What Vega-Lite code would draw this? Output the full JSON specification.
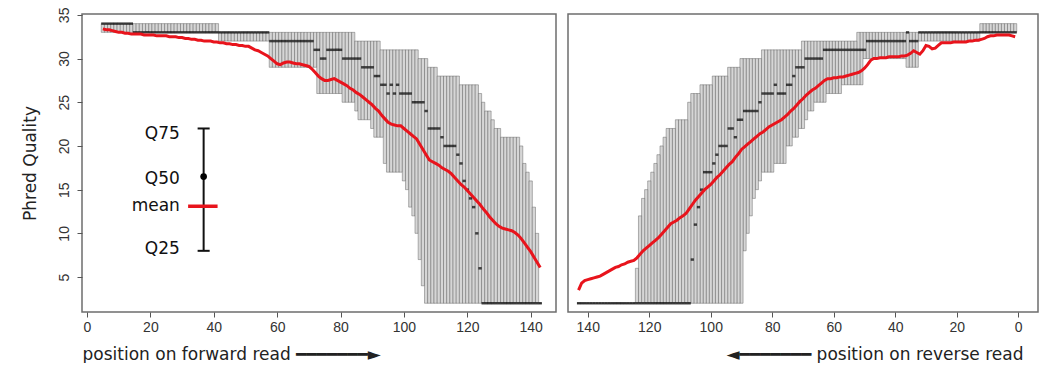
{
  "$schema": "https://vega.github.io/schema/vega-lite/v6.json",
  "autosize": {"type": "pad"},
  "padding": {"left": 20, "top": 6, "right": 0, "bottom": 0},
  "background": "white",
  "spacing": 12,
  "bounds": "flush",
  "config": {
    "view": {"stroke": "#6e6e6e", "strokeWidth": 1.5},
    "font": "DejaVu Sans",
    "axis": {
      "labelFont": "Liberation Sans", "labelFontSize": 14, "labelColor": "#333333",
      "tickColor": "#555555", "tickSize": 5, "domain": false, "grid": false,
      "titleFont": "DejaVu Sans", "titleFontWeight": "normal", "titleFontSize": 17, "titleColor": "#222222"
    }
  },
  "datasets": {
    "fwd": [
      {"pos":5,"q25":33,"q75":34,"median":34,"mean":33.4},
      {"pos":6,"q25":33,"q75":34,"median":34,"mean":33.3},
      {"pos":7,"q25":33,"q75":34,"median":34,"mean":33.3},
      {"pos":8,"q25":33,"q75":34,"median":34,"mean":33.2},
      {"pos":9,"q25":33,"q75":34,"median":34,"mean":33.1},
      {"pos":10,"q25":33,"q75":34,"median":34,"mean":33.0},
      {"pos":11,"q25":33,"q75":34,"median":34,"mean":33.0},
      {"pos":12,"q25":33,"q75":34,"median":34,"mean":32.9},
      {"pos":13,"q25":33,"q75":34,"median":34,"mean":32.9},
      {"pos":14,"q25":33,"q75":34,"median":34,"mean":32.8},
      {"pos":15,"q25":33,"q75":34,"median":33,"mean":32.8},
      {"pos":16,"q25":33,"q75":34,"median":33,"mean":32.8},
      {"pos":17,"q25":33,"q75":34,"median":33,"mean":32.8},
      {"pos":18,"q25":33,"q75":34,"median":33,"mean":32.7},
      {"pos":19,"q25":33,"q75":34,"median":33,"mean":32.7},
      {"pos":20,"q25":33,"q75":34,"median":33,"mean":32.7},
      {"pos":21,"q25":33,"q75":34,"median":33,"mean":32.7},
      {"pos":22,"q25":33,"q75":34,"median":33,"mean":32.6},
      {"pos":23,"q25":33,"q75":34,"median":33,"mean":32.6},
      {"pos":24,"q25":33,"q75":34,"median":33,"mean":32.6},
      {"pos":25,"q25":33,"q75":34,"median":33,"mean":32.6},
      {"pos":26,"q25":33,"q75":34,"median":33,"mean":32.5},
      {"pos":27,"q25":33,"q75":34,"median":33,"mean":32.5},
      {"pos":28,"q25":33,"q75":34,"median":33,"mean":32.5},
      {"pos":29,"q25":33,"q75":34,"median":33,"mean":32.4},
      {"pos":30,"q25":33,"q75":34,"median":33,"mean":32.4},
      {"pos":31,"q25":33,"q75":34,"median":33,"mean":32.3},
      {"pos":32,"q25":33,"q75":34,"median":33,"mean":32.3},
      {"pos":33,"q25":33,"q75":34,"median":33,"mean":32.2},
      {"pos":34,"q25":33,"q75":34,"median":33,"mean":32.2},
      {"pos":35,"q25":33,"q75":34,"median":33,"mean":32.1},
      {"pos":36,"q25":33,"q75":34,"median":33,"mean":32.1},
      {"pos":37,"q25":33,"q75":34,"median":33,"mean":32.0},
      {"pos":38,"q25":33,"q75":34,"median":33,"mean":32.0},
      {"pos":39,"q25":33,"q75":34,"median":33,"mean":32.0},
      {"pos":40,"q25":33,"q75":34,"median":33,"mean":31.9},
      {"pos":41,"q25":33,"q75":34,"median":33,"mean":31.9},
      {"pos":42,"q25":32,"q75":33,"median":33,"mean":31.8},
      {"pos":43,"q25":32,"q75":33,"median":33,"mean":31.8},
      {"pos":44,"q25":32,"q75":33,"median":33,"mean":31.7},
      {"pos":45,"q25":32,"q75":33,"median":33,"mean":31.7},
      {"pos":46,"q25":32,"q75":33,"median":33,"mean":31.6},
      {"pos":47,"q25":32,"q75":33,"median":33,"mean":31.6},
      {"pos":48,"q25":32,"q75":33,"median":33,"mean":31.5},
      {"pos":49,"q25":32,"q75":33,"median":33,"mean":31.5},
      {"pos":50,"q25":32,"q75":33,"median":33,"mean":31.4},
      {"pos":51,"q25":32,"q75":33,"median":33,"mean":31.4},
      {"pos":52,"q25":32,"q75":33,"median":33,"mean":31.2},
      {"pos":53,"q25":32,"q75":33,"median":33,"mean":31.0},
      {"pos":54,"q25":32,"q75":33,"median":33,"mean":30.9},
      {"pos":55,"q25":32,"q75":33,"median":33,"mean":30.7},
      {"pos":56,"q25":32,"q75":33,"median":33,"mean":30.5},
      {"pos":57,"q25":32,"q75":33,"median":33,"mean":30.3},
      {"pos":58,"q25":29,"q75":33,"median":32,"mean":30.0},
      {"pos":59,"q25":29,"q75":33,"median":32,"mean":29.7},
      {"pos":60,"q25":29,"q75":33,"median":32,"mean":29.4},
      {"pos":61,"q25":29,"q75":33,"median":32,"mean":29.3},
      {"pos":62,"q25":29,"q75":33,"median":32,"mean":29.5},
      {"pos":63,"q25":29,"q75":33,"median":32,"mean":29.6},
      {"pos":64,"q25":29,"q75":33,"median":32,"mean":29.6},
      {"pos":65,"q25":29,"q75":33,"median":32,"mean":29.5},
      {"pos":66,"q25":29,"q75":33,"median":32,"mean":29.4},
      {"pos":67,"q25":29,"q75":33,"median":32,"mean":29.4},
      {"pos":68,"q25":29,"q75":33,"median":32,"mean":29.3},
      {"pos":69,"q25":29,"q75":33,"median":32,"mean":29.2},
      {"pos":70,"q25":29,"q75":33,"median":32,"mean":29.1},
      {"pos":71,"q25":29,"q75":33,"median":32,"mean":28.8},
      {"pos":72,"q25":29,"q75":33,"median":31,"mean":28.4},
      {"pos":73,"q25":26,"q75":33,"median":31,"mean":28.0},
      {"pos":74,"q25":26,"q75":33,"median":30,"mean":27.7},
      {"pos":75,"q25":26,"q75":33,"median":30,"mean":27.5},
      {"pos":76,"q25":26,"q75":33,"median":31,"mean":27.5},
      {"pos":77,"q25":26,"q75":33,"median":31,"mean":27.6},
      {"pos":78,"q25":26,"q75":33,"median":31,"mean":27.7},
      {"pos":79,"q25":26,"q75":33,"median":31,"mean":27.5},
      {"pos":80,"q25":26,"q75":33,"median":31,"mean":27.3},
      {"pos":81,"q25":25,"q75":33,"median":30,"mean":27.1},
      {"pos":82,"q25":25,"q75":33,"median":30,"mean":26.9},
      {"pos":83,"q25":25,"q75":33,"median":30,"mean":26.6},
      {"pos":84,"q25":25,"q75":33,"median":30,"mean":26.4},
      {"pos":85,"q25":24,"q75":32,"median":30,"mean":26.1},
      {"pos":86,"q25":23,"q75":32,"median":30,"mean":25.9},
      {"pos":87,"q25":23,"q75":32,"median":29,"mean":25.6},
      {"pos":88,"q25":23,"q75":32,"median":29,"mean":25.3},
      {"pos":89,"q25":23,"q75":32,"median":29,"mean":25.0},
      {"pos":90,"q25":22,"q75":32,"median":29,"mean":24.7},
      {"pos":91,"q25":21,"q75":32,"median":28,"mean":24.3},
      {"pos":92,"q25":21,"q75":32,"median":28,"mean":24.0},
      {"pos":93,"q25":21,"q75":31,"median":27,"mean":23.5},
      {"pos":94,"q25":18,"q75":31,"median":27,"mean":23.1},
      {"pos":95,"q25":17,"q75":31,"median":26,"mean":22.7},
      {"pos":96,"q25":17,"q75":31,"median":27,"mean":22.5},
      {"pos":97,"q25":17,"q75":31,"median":26,"mean":22.4},
      {"pos":98,"q25":17,"q75":31,"median":27,"mean":22.3},
      {"pos":99,"q25":17,"q75":31,"median":26,"mean":22.3},
      {"pos":100,"q25":16,"q75":31,"median":26,"mean":22.0},
      {"pos":101,"q25":15,"q75":31,"median":26,"mean":21.7},
      {"pos":102,"q25":13,"q75":31,"median":26,"mean":21.4},
      {"pos":103,"q25":12,"q75":31,"median":25,"mean":21.1},
      {"pos":104,"q25":10,"q75":31,"median":25,"mean":20.8},
      {"pos":105,"q25":7,"q75":30,"median":25,"mean":20.2},
      {"pos":106,"q25":4,"q75":30,"median":25,"mean":19.6},
      {"pos":107,"q25":2,"q75":30,"median":24,"mean":19.0},
      {"pos":108,"q25":2,"q75":29,"median":22,"mean":18.4},
      {"pos":109,"q25":2,"q75":29,"median":22,"mean":18.2},
      {"pos":110,"q25":2,"q75":29,"median":22,"mean":18.0},
      {"pos":111,"q25":2,"q75":28,"median":22,"mean":17.8},
      {"pos":112,"q25":2,"q75":28,"median":21,"mean":17.5},
      {"pos":113,"q25":2,"q75":28,"median":20,"mean":17.3},
      {"pos":114,"q25":2,"q75":28,"median":20,"mean":17.1},
      {"pos":115,"q25":2,"q75":28,"median":20,"mean":16.8},
      {"pos":116,"q25":2,"q75":28,"median":20,"mean":16.4},
      {"pos":117,"q25":2,"q75":28,"median":19,"mean":16.0},
      {"pos":118,"q25":2,"q75":27,"median":18,"mean":15.6},
      {"pos":119,"q25":2,"q75":27,"median":16,"mean":15.3},
      {"pos":120,"q25":2,"q75":27,"median":15,"mean":14.9},
      {"pos":121,"q25":2,"q75":27,"median":14,"mean":14.5},
      {"pos":122,"q25":2,"q75":27,"median":13,"mean":14.1},
      {"pos":123,"q25":2,"q75":27,"median":10,"mean":13.7},
      {"pos":124,"q25":2,"q75":26,"median":6,"mean":13.3},
      {"pos":125,"q25":2,"q75":25,"median":2,"mean":12.8},
      {"pos":126,"q25":2,"q75":24,"median":2,"mean":12.4},
      {"pos":127,"q25":2,"q75":24,"median":2,"mean":11.9},
      {"pos":128,"q25":2,"q75":23,"median":2,"mean":11.5},
      {"pos":129,"q25":2,"q75":22,"median":2,"mean":11.1},
      {"pos":130,"q25":2,"q75":22,"median":2,"mean":10.8},
      {"pos":131,"q25":2,"q75":21,"median":2,"mean":10.6},
      {"pos":132,"q25":2,"q75":21,"median":2,"mean":10.5},
      {"pos":133,"q25":2,"q75":21,"median":2,"mean":10.4},
      {"pos":134,"q25":2,"q75":21,"median":2,"mean":10.3},
      {"pos":135,"q25":2,"q75":21,"median":2,"mean":10.1},
      {"pos":136,"q25":2,"q75":21,"median":2,"mean":9.8},
      {"pos":137,"q25":2,"q75":20,"median":2,"mean":9.4},
      {"pos":138,"q25":2,"q75":18,"median":2,"mean":8.9},
      {"pos":139,"q25":2,"q75":17,"median":2,"mean":8.4},
      {"pos":140,"q25":2,"q75":16,"median":2,"mean":7.9},
      {"pos":141,"q25":2,"q75":13,"median":2,"mean":7.3},
      {"pos":142,"q25":2,"q75":10,"median":2,"mean":6.7},
      {"pos":143,"q25":2,"q75":2,"median":2,"mean":6.1}
    ],
    "rev": [
      {"pos":1,"q25":33,"q75":34,"median":33,"mean":32.5},
      {"pos":2,"q25":33,"q75":34,"median":33,"mean":32.6},
      {"pos":3,"q25":33,"q75":34,"median":33,"mean":32.7},
      {"pos":4,"q25":33,"q75":34,"median":33,"mean":32.7},
      {"pos":5,"q25":33,"q75":34,"median":33,"mean":32.7},
      {"pos":6,"q25":33,"q75":34,"median":33,"mean":32.7},
      {"pos":7,"q25":33,"q75":34,"median":33,"mean":32.7},
      {"pos":8,"q25":33,"q75":34,"median":33,"mean":32.6},
      {"pos":9,"q25":33,"q75":34,"median":33,"mean":32.6},
      {"pos":10,"q25":33,"q75":34,"median":33,"mean":32.5},
      {"pos":11,"q25":33,"q75":34,"median":33,"mean":32.3},
      {"pos":12,"q25":33,"q75":34,"median":33,"mean":32.2},
      {"pos":13,"q25":32,"q75":33,"median":33,"mean":32.1},
      {"pos":14,"q25":32,"q75":33,"median":33,"mean":32.1},
      {"pos":15,"q25":32,"q75":33,"median":33,"mean":32.0},
      {"pos":16,"q25":32,"q75":33,"median":33,"mean":32.0},
      {"pos":17,"q25":32,"q75":33,"median":33,"mean":31.9},
      {"pos":18,"q25":32,"q75":33,"median":33,"mean":31.9},
      {"pos":19,"q25":32,"q75":33,"median":33,"mean":31.9},
      {"pos":20,"q25":32,"q75":33,"median":33,"mean":31.9},
      {"pos":21,"q25":32,"q75":33,"median":33,"mean":31.9},
      {"pos":22,"q25":32,"q75":33,"median":33,"mean":31.8},
      {"pos":23,"q25":32,"q75":33,"median":33,"mean":31.8},
      {"pos":24,"q25":32,"q75":33,"median":33,"mean":31.8},
      {"pos":25,"q25":32,"q75":33,"median":33,"mean":31.8},
      {"pos":26,"q25":32,"q75":33,"median":33,"mean":31.5},
      {"pos":27,"q25":32,"q75":33,"median":33,"mean":31.2},
      {"pos":28,"q25":32,"q75":33,"median":33,"mean":31.1},
      {"pos":29,"q25":32,"q75":33,"median":33,"mean":31.4},
      {"pos":30,"q25":32,"q75":33,"median":33,"mean":31.5},
      {"pos":31,"q25":32,"q75":33,"median":33,"mean":30.9},
      {"pos":32,"q25":32,"q75":33,"median":33,"mean":30.5},
      {"pos":33,"q25":29,"q75":33,"median":32,"mean":30.7},
      {"pos":34,"q25":29,"q75":33,"median":32,"mean":30.9},
      {"pos":35,"q25":29,"q75":33,"median":32,"mean":30.6},
      {"pos":36,"q25":29,"q75":33,"median":33,"mean":30.4},
      {"pos":37,"q25":30,"q75":33,"median":32,"mean":30.3},
      {"pos":38,"q25":30,"q75":33,"median":32,"mean":30.3},
      {"pos":39,"q25":30,"q75":33,"median":32,"mean":30.2},
      {"pos":40,"q25":30,"q75":33,"median":32,"mean":30.2},
      {"pos":41,"q25":30,"q75":33,"median":32,"mean":30.2},
      {"pos":42,"q25":30,"q75":33,"median":32,"mean":30.2},
      {"pos":43,"q25":30,"q75":33,"median":32,"mean":30.1},
      {"pos":44,"q25":30,"q75":33,"median":32,"mean":30.1},
      {"pos":45,"q25":30,"q75":33,"median":32,"mean":30.1},
      {"pos":46,"q25":30,"q75":33,"median":32,"mean":30.0},
      {"pos":47,"q25":30,"q75":33,"median":32,"mean":30.0},
      {"pos":48,"q25":30,"q75":33,"median":32,"mean":29.8},
      {"pos":49,"q25":30,"q75":33,"median":32,"mean":29.3},
      {"pos":50,"q25":30,"q75":33,"median":31,"mean":28.9},
      {"pos":51,"q25":27,"q75":33,"median":31,"mean":28.6},
      {"pos":52,"q25":27,"q75":33,"median":31,"mean":28.4},
      {"pos":53,"q25":27,"q75":32,"median":31,"mean":28.3},
      {"pos":54,"q25":27,"q75":32,"median":31,"mean":28.2},
      {"pos":55,"q25":27,"q75":32,"median":31,"mean":28.1},
      {"pos":56,"q25":27,"q75":32,"median":31,"mean":28.0},
      {"pos":57,"q25":27,"q75":32,"median":31,"mean":27.9},
      {"pos":58,"q25":26,"q75":32,"median":31,"mean":27.9},
      {"pos":59,"q25":26,"q75":32,"median":31,"mean":27.8},
      {"pos":60,"q25":26,"q75":32,"median":31,"mean":27.8},
      {"pos":61,"q25":26,"q75":32,"median":31,"mean":27.7},
      {"pos":62,"q25":26,"q75":32,"median":31,"mean":27.7},
      {"pos":63,"q25":25,"q75":32,"median":31,"mean":27.5},
      {"pos":64,"q25":25,"q75":32,"median":30,"mean":27.2},
      {"pos":65,"q25":25,"q75":32,"median":30,"mean":26.9},
      {"pos":66,"q25":25,"q75":32,"median":30,"mean":26.6},
      {"pos":67,"q25":24,"q75":32,"median":30,"mean":26.4},
      {"pos":68,"q25":24,"q75":32,"median":30,"mean":26.1},
      {"pos":69,"q25":23,"q75":32,"median":30,"mean":25.8},
      {"pos":70,"q25":22,"q75":32,"median":29,"mean":25.4},
      {"pos":71,"q25":22,"q75":31,"median":29,"mean":25.1},
      {"pos":72,"q25":21,"q75":31,"median":29,"mean":24.7},
      {"pos":73,"q25":21,"q75":31,"median":28,"mean":24.3},
      {"pos":74,"q25":20,"q75":31,"median":27,"mean":24.0},
      {"pos":75,"q25":20,"q75":31,"median":27,"mean":23.6},
      {"pos":76,"q25":18,"q75":31,"median":26,"mean":23.3},
      {"pos":77,"q25":18,"q75":31,"median":26,"mean":23.0},
      {"pos":78,"q25":18,"q75":31,"median":26,"mean":22.8},
      {"pos":79,"q25":18,"q75":31,"median":27,"mean":22.6},
      {"pos":80,"q25":17,"q75":31,"median":26,"mean":22.4},
      {"pos":81,"q25":17,"q75":31,"median":26,"mean":22.2},
      {"pos":82,"q25":17,"q75":31,"median":26,"mean":21.9},
      {"pos":83,"q25":17,"q75":31,"median":26,"mean":21.6},
      {"pos":84,"q25":16,"q75":30,"median":25,"mean":21.4},
      {"pos":85,"q25":15,"q75":30,"median":24,"mean":21.1},
      {"pos":86,"q25":14,"q75":30,"median":24,"mean":20.8},
      {"pos":87,"q25":12,"q75":30,"median":24,"mean":20.5},
      {"pos":88,"q25":10,"q75":30,"median":24,"mean":20.2},
      {"pos":89,"q25":8,"q75":30,"median":24,"mean":19.9},
      {"pos":90,"q25":2,"q75":30,"median":23,"mean":19.6},
      {"pos":91,"q25":2,"q75":29,"median":23,"mean":19.1},
      {"pos":92,"q25":2,"q75":29,"median":21,"mean":18.7},
      {"pos":93,"q25":2,"q75":29,"median":22,"mean":18.2},
      {"pos":94,"q25":2,"q75":29,"median":22,"mean":17.9},
      {"pos":95,"q25":2,"q75":28,"median":20,"mean":17.5},
      {"pos":96,"q25":2,"q75":28,"median":20,"mean":17.1},
      {"pos":97,"q25":2,"q75":28,"median":20,"mean":16.7},
      {"pos":98,"q25":2,"q75":28,"median":19,"mean":16.4},
      {"pos":99,"q25":2,"q75":28,"median":18,"mean":16.0},
      {"pos":100,"q25":2,"q75":27,"median":17,"mean":15.6},
      {"pos":101,"q25":2,"q75":27,"median":17,"mean":15.3},
      {"pos":102,"q25":2,"q75":27,"median":17,"mean":15.0},
      {"pos":103,"q25":2,"q75":27,"median":15,"mean":14.6},
      {"pos":104,"q25":2,"q75":26,"median":13,"mean":14.2},
      {"pos":105,"q25":2,"q75":26,"median":11,"mean":13.8},
      {"pos":106,"q25":2,"q75":26,"median":7,"mean":13.3},
      {"pos":107,"q25":2,"q75":25,"median":2,"mean":12.8},
      {"pos":108,"q25":2,"q75":23,"median":2,"mean":12.3},
      {"pos":109,"q25":2,"q75":23,"median":2,"mean":12.0},
      {"pos":110,"q25":2,"q75":23,"median":2,"mean":11.8},
      {"pos":111,"q25":2,"q75":23,"median":2,"mean":11.5},
      {"pos":112,"q25":2,"q75":22,"median":2,"mean":11.3},
      {"pos":113,"q25":2,"q75":22,"median":2,"mean":11.1},
      {"pos":114,"q25":2,"q75":22,"median":2,"mean":10.7},
      {"pos":115,"q25":2,"q75":21,"median":2,"mean":10.3},
      {"pos":116,"q25":2,"q75":20,"median":2,"mean":9.9},
      {"pos":117,"q25":2,"q75":19,"median":2,"mean":9.5},
      {"pos":118,"q25":2,"q75":18,"median":2,"mean":9.2},
      {"pos":119,"q25":2,"q75":17,"median":2,"mean":8.9},
      {"pos":120,"q25":2,"q75":16,"median":2,"mean":8.6},
      {"pos":121,"q25":2,"q75":15,"median":2,"mean":8.3},
      {"pos":122,"q25":2,"q75":14,"median":2,"mean":8.0},
      {"pos":123,"q25":2,"q75":12,"median":2,"mean":7.6},
      {"pos":124,"q25":2,"q75":6,"median":2,"mean":7.2},
      {"pos":125,"q25":2,"q75":2,"median":2,"mean":6.9},
      {"pos":126,"q25":2,"q75":2,"median":2,"mean":6.8},
      {"pos":127,"q25":2,"q75":2,"median":2,"mean":6.7},
      {"pos":128,"q25":2,"q75":2,"median":2,"mean":6.5},
      {"pos":129,"q25":2,"q75":2,"median":2,"mean":6.4},
      {"pos":130,"q25":2,"q75":2,"median":2,"mean":6.2},
      {"pos":131,"q25":2,"q75":2,"median":2,"mean":6.1},
      {"pos":132,"q25":2,"q75":2,"median":2,"mean":5.9},
      {"pos":133,"q25":2,"q75":2,"median":2,"mean":5.7},
      {"pos":134,"q25":2,"q75":2,"median":2,"mean":5.5},
      {"pos":135,"q25":2,"q75":2,"median":2,"mean":5.3},
      {"pos":136,"q25":2,"q75":2,"median":2,"mean":5.1},
      {"pos":137,"q25":2,"q75":2,"median":2,"mean":5.0},
      {"pos":138,"q25":2,"q75":2,"median":2,"mean":4.9},
      {"pos":139,"q25":2,"q75":2,"median":2,"mean":4.8},
      {"pos":140,"q25":2,"q75":2,"median":2,"mean":4.7},
      {"pos":141,"q25":2,"q75":2,"median":2,"mean":4.6},
      {"pos":142,"q25":2,"q75":2,"median":2,"mean":4.3},
      {"pos":143,"q25":2,"q75":2,"median":2,"mean":3.5}
    ]
  },
  "hconcat": [
    {
      "width": 474,
      "height": 298,
      "layer": [
        {"data": {"name": "fwd"},
         "mark": {"type": "bar", "width": 3.24, "fill": "#d6d6d6", "stroke": "#4a4a4a", "strokeWidth": 0.4},
         "encoding": {
           "x": {"field": "pos", "type": "quantitative",
                 "scale": {"domain": [0, 146.4], "nice": false, "zero": false},
                 "axis": {"values": [0, 20, 40, 60, 80, 100, 120, 140], "labelAngle": 0, "labelPadding": 3,
                          "title": "position on forward read  ━━━━━━━►", "titleAnchor": "start", "titlePadding": 12}},
           "y": {"field": "q25", "type": "quantitative",
                 "scale": {"domain": [1, 35.1], "nice": false, "zero": false},
                 "axis": {"values": [5, 10, 15, 20, 25, 30, 35], "labelAngle": -90, "labelAlign": "center", "labelBaseline": "bottom",
                          "labelPadding": 6, "title": "Phred Quality", "titlePadding": 18}},
           "y2": {"field": "q75"}}},
        {"data": {"name": "fwd"},
         "mark": {"type": "tick", "orient": "horizontal", "size": 3.3, "thickness": 2.5, "color": "#000000"},
         "encoding": {"x": {"field": "pos", "type": "quantitative"}, "y": {"field": "median", "type": "quantitative"}}},
        {"data": {"name": "fwd"},
         "mark": {"type": "line", "color": "#e8141c", "strokeWidth": 3},
         "encoding": {"x": {"field": "pos", "type": "quantitative"}, "y": {"field": "mean", "type": "quantitative"}}},
        {"data": {"values": [
           {"label": "Q75", "lx": 29.3, "ly": 20.85},
           {"label": "Q50", "lx": 29.3, "ly": 15.6},
           {"label": "mean", "lx": 29.3, "ly": 12.55},
           {"label": "Q25", "lx": 29.3, "ly": 7.6}]},
         "mark": {"type": "text", "align": "right", "baseline": "alphabetic", "fontSize": 17, "font": "DejaVu Sans", "color": "#111111"},
         "encoding": {"x": {"field": "lx", "type": "quantitative"}, "y": {"field": "ly", "type": "quantitative"}, "text": {"field": "label", "type": "nominal"}}},
        {"data": {"values": [
           {"x1": 36.8, "x2": 36.8, "y1": 8, "y2": 22},
           {"x1": 34.9, "x2": 38.7, "y1": 22, "y2": 22},
           {"x1": 34.9, "x2": 38.7, "y1": 8, "y2": 8}]},
         "mark": {"type": "rule", "color": "#111111", "strokeWidth": 2},
         "encoding": {"x": {"field": "x1", "type": "quantitative"}, "x2": {"field": "x2"}, "y": {"field": "y1", "type": "quantitative"}, "y2": {"field": "y2"}}},
        {"data": {"values": [{"px": 36.8, "py": 16.5}]},
         "mark": {"type": "point", "filled": true, "color": "#000000", "size": 45, "opacity": 1},
         "encoding": {"x": {"field": "px", "type": "quantitative"}, "y": {"field": "py", "type": "quantitative"}}},
        {"data": {"values": [{"x1": 31.9, "x2": 41.2, "y1": 13.1}]},
         "mark": {"type": "rule", "color": "#e8141c", "strokeWidth": 3.5},
         "encoding": {"x": {"field": "x1", "type": "quantitative"}, "x2": {"field": "x2"}, "y": {"field": "y1", "type": "quantitative"}}}
      ]
    },
    {
      "width": 470,
      "height": 298,
      "data": {"name": "rev"},
      "encoding": {
        "x": {"field": "pos", "type": "quantitative",
              "scale": {"domain": [-4.8, 144.8], "reverse": true, "nice": false, "zero": false},
              "axis": {"values": [0, 20, 40, 60, 80, 100, 120, 140], "labelAngle": 0, "labelPadding": 3,
                       "title": "◄━━━━━━━  position on reverse read", "titleX": 455, "titleAlign": "right", "titlePadding": 12}},
        "y": {"type": "quantitative",
              "scale": {"domain": [1, 35.1], "nice": false, "zero": false},
              "axis": null}
      },
      "layer": [
        {"mark": {"type": "bar", "width": 3.14, "fill": "#d6d6d6", "stroke": "#4a4a4a", "strokeWidth": 0.4},
         "encoding": {"y": {"field": "q25", "type": "quantitative"}, "y2": {"field": "q75"}}},
        {"mark": {"type": "tick", "orient": "horizontal", "size": 3.2, "thickness": 2.5, "color": "#000000"},
         "encoding": {"y": {"field": "median", "type": "quantitative"}}},
        {"mark": {"type": "line", "color": "#e8141c", "strokeWidth": 3},
         "encoding": {"y": {"field": "mean", "type": "quantitative"}}}
      ]
    }
  ]
}
